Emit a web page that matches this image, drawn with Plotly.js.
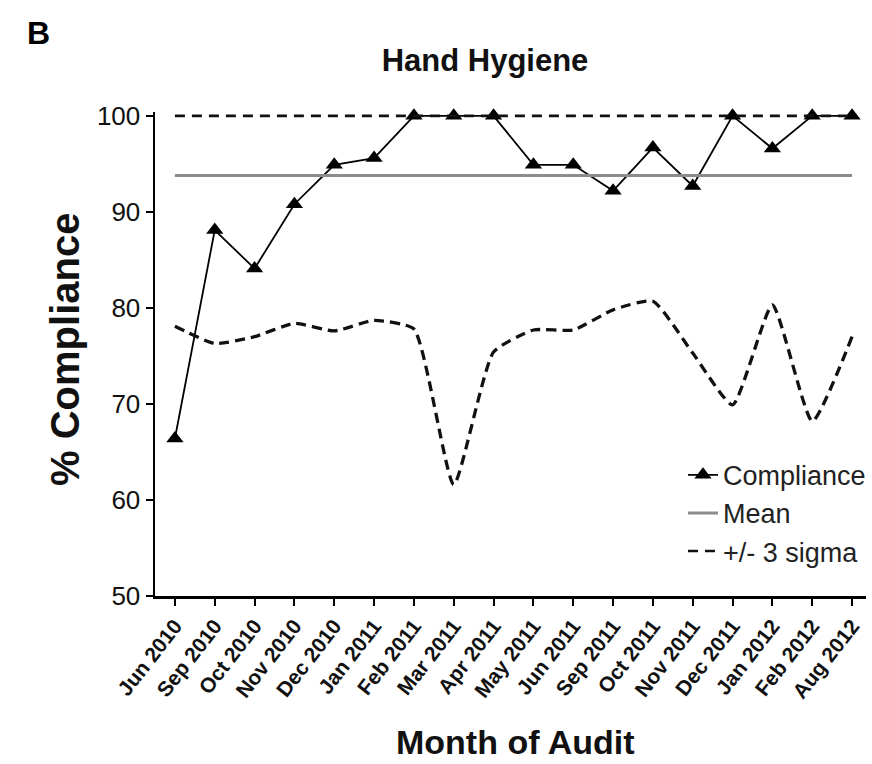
<!DOCTYPE html>
<html>
<head>
<meta charset="utf-8">
<script src="https://cdn.plot.ly/plotly-3.0.1.min.js"></script>
<style>html,body{margin:0;padding:0;background:#fff;}#chart{width:872px;height:764px;}</style>
</head>
<body>
<div id="chart"></div>
<script>
const months = ["Jun 2010","Sep 2010","Oct 2010","Nov 2010","Dec 2010","Jan 2011","Feb 2011","Mar 2011","Apr 2011","May 2011","Jun 2011","Sep 2011","Oct 2011","Nov 2011","Dec 2011","Jan 2012","Feb 2012","Aug 2012"];
const compliance = [66.4,88.1,84.1,90.8,94.9,95.6,100,100,100,94.9,94.9,92.2,96.7,92.7,100,96.6,100,100];
const meanValue = 93.8;
const upperSigma = [100,100,100,100,100,100,100,100,100,100,100,100,100,100,100,100,100,100];
const lowerSigma = [78.1,76.3,77.0,78.4,77.6,78.7,77.8,61.6,75.4,77.7,77.7,79.8,80.7,75.3,69.9,80.3,68.2,77.0];
const yTicks = [50,60,70,80,90,100];

const idx = months.map((m,i)=>i);
const meanArr = months.map(()=>meanValue);
const FONT = "Liberation Sans, Arial, sans-serif";

const traces = [
  {x: idx, y: compliance, name: "Compliance", mode: "lines+markers", type: "scatter",
   line: {color: "#000", width: 1.8},
   marker: {symbol: "triangle-up", size: 15, color: "#000"},
   cliponaxis: false},
  {x: idx, y: meanArr, name: "Mean", mode: "lines", type: "scatter",
   line: {color: "#8c8c8c", width: 3}},
  {x: idx, y: upperSigma, name: "+/- 3 sigma", mode: "lines", type: "scatter",
   line: {color: "#111", width: 2.6, dash: "10px,7px"}, legendgroup: "s"},
  {x: idx, y: lowerSigma, name: "+/- 3 sigma", mode: "lines", type: "scatter",
   line: {color: "#111", width: 3.3, dash: "10px,6px", shape: "spline", smoothing: 0.5},
   legendgroup: "s", showlegend: false}
];

const layout = {
  width: 872, height: 764,
  margin: {l: 155, r: 6, t: 112, b: 168, autoexpand: false},
  paper_bgcolor: "#fff", plot_bgcolor: "#fff",
  font: {family: FONT, color: "#000"},
  showlegend: true,
  title: {text: "<b>Hand Hygiene</b>", x: 485/872, xanchor: "center", xref: "container",
          y: 1 - 60/764, yanchor: "middle", yref: "container",
          font: {size: 31, family: FONT, color: "#111"}},
  xaxis: {
    range: [-0.5, 17.35], tickmode: "array", tickvals: idx, ticktext: months.map(m=>"<b>"+m+"</b>"),
    tickangle: -52, ticks: "outside", ticklen: 7, tickwidth: 2, tickcolor: "#000",
    showline: true, linecolor: "#000", linewidth: 2.5, showgrid: false, zeroline: false,
    tickfont: {size: 21, family: FONT, color: "#111"}, fixedrange: true, automargin: false
  },
  yaxis: {
    range: [50, 100.4], tickmode: "array", tickvals: yTicks, ticktext: yTicks.map(String),
    ticks: "outside", ticklen: 7, tickwidth: 2, tickcolor: "#000",
    showline: true, linecolor: "#000", linewidth: 2.5, showgrid: false, zeroline: false,
    tickfont: {size: 26, family: FONT, color: "#111"}, fixedrange: true, automargin: false
  },
  legend: {x: (683-155)/711, y: 0.30, xanchor: "left", yanchor: "top",
           font: {size: 27, family: FONT, color: "#222"},
           bgcolor: "rgba(0,0,0,0)", tracegroupgap: 0, itemwidth: 30},
  annotations: [
    {text: "<b>B</b>", xref: "paper", yref: "paper", x: (38-155)/711, y: (596-38)/480,
     xanchor: "center", yanchor: "middle", showarrow: false, font: {size: 32, family: FONT, color: "#000"}},
    {text: "<b>% Compliance</b>", xref: "paper", yref: "paper", x: (65-155)/711, y: (596-352)/480,
     xanchor: "center", yanchor: "middle", textangle: -90, showarrow: false,
     font: {size: 40, family: FONT, color: "#111"}},
    {text: "<b>Month of Audit</b>", xref: "paper", yref: "paper", x: (515-155)/711, y: (596-741)/480,
     xanchor: "center", yanchor: "middle", showarrow: false,
     font: {size: 34, family: FONT, color: "#111"}}
  ]
};

Plotly.newPlot("chart", traces, layout, {displayModeBar: false, staticPlot: true});
</script>
</body>
</html>
